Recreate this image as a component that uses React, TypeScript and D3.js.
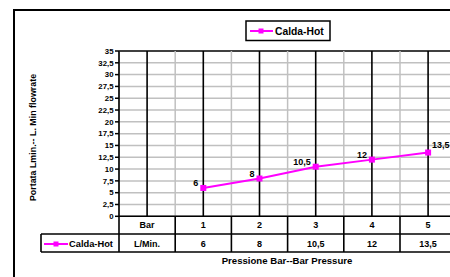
import React from 'react';
import { scaleBand, scaleLinear, range, line } from 'd3';

const categories = ['Bar', '1', '2', '3', '4', '5'];
const flowValues: (number | null)[] = [null, 6, 8, 10.5, 12, 13.5];
const tableRow = ['L/Min.', '6', '8', '10,5', '12', '13,5'];
const yTicks = range(0, 35.01, 2.5);
const seriesName = 'Calda-Hot';

const fmt = (v: number) => String(v).replace('.', ',');
const MAGENTA = '#FF00FF';
const FONT = '"Liberation Sans", Arial, sans-serif';

function App() {
  const left = 119, top = 51, bottom = 216.3;
  const x = scaleBand().domain(categories).range([left, left + 6 * 56.2]);
  const y = scaleLinear().domain([0, 35]).range([bottom, top]);
  const bw = x.bandwidth();
  const cx = (c: string) => (x(c) as number) + bw / 2;
  const right = left + 6 * 56.2;
  const row1 = bottom, row2 = 234, row3 = 252;

  const pts = categories
    .map((c, i) => ({ c, v: flowValues[i] }))
    .filter(d => d.v !== null) as { c: string; v: number }[];
  const path = line<{ c: string; v: number }>().x(d => cx(d.c)).y(d => y(d.v))(pts);

  // label offsets, as placed on the original chart
  const labelPos = (i: number, n: number) =>
    i === n - 1 ? { dx: 4, dy: -5, anchor: 'start' } : { dx: -5, dy: -1.5, anchor: 'end' };

  return (
    <svg width={450} height={277} style={{ position: 'absolute', left: 0, top: 0, fontFamily: FONT }}>
      <rect x={0} y={0} width={450} height={277} fill="#fff" />
      <rect x={14} y={10} width={470} height={300} fill="none" stroke="#000" strokeWidth={2} />

      {/* legend */}
      <rect x={246} y={21} width={84} height={19.5} fill="#fff" stroke="#000" strokeWidth={1.5} />
      <line x1={250} x2={273} y1={31} y2={31} stroke={MAGENTA} strokeWidth={2} />
      <rect x={258.5} y={28.5} width={5} height={5} fill={MAGENTA} />
      <text x={275} y={34.5} fontSize={10.3} fontWeight="bold">{seriesName}</text>

      {/* grid */}
      {yTicks.map(t => (
        <line key={t} x1={left} x2={right} y1={y(t)} y2={y(t)} stroke={t === 35 ? '#000' : '#c0c0c0'} strokeWidth={1.5} />
      ))}
      {categories.map(c => (
        <line key={'g' + c} x1={x(c) as number} x2={x(c) as number} y1={top} y2={bottom} stroke="#c0c0c0" strokeWidth={1.5} />
      ))}
      {categories.map(c => (
        <line key={'b' + c} x1={cx(c)} x2={cx(c)} y1={top} y2={bottom} stroke="#000" strokeWidth={1.6} />
      ))}

      {/* y axis */}
      <line x1={left} x2={left} y1={top} y2={bottom} stroke="#000" strokeWidth={1.6} />
      {yTicks.map(t => (
        <g key={'t' + t}>
          <line x1={left - 4} x2={left} y1={y(t)} y2={y(t)} stroke="#000" strokeWidth={1.5} />
          <text x={left - 5.5} y={y(t) + 2.8} fontSize={7.8} fontWeight="bold" textAnchor="end">{fmt(t)}</text>
        </g>
      ))}
      <text transform={`translate(35.5,137.5) rotate(-90)`} fontSize={8.9} fontWeight="bold" textAnchor="middle">
        Portata Lmin.-- L. Min flowrate
      </text>

      {/* series */}
      <path d={path || ''} fill="none" stroke={MAGENTA} strokeWidth={2} />
      {pts.map((d, i) => {
        const p = labelPos(i, pts.length);
        return (
          <g key={'p' + d.c}>
            <rect x={cx(d.c) - 3} y={y(d.v) - 3} width={6} height={6} fill={MAGENTA} />
            <text x={cx(d.c) + p.dx} y={y(d.v) + p.dy} fontSize={9} fontWeight="bold" textAnchor={p.anchor}>{fmt(d.v)}</text>
          </g>
        );
      })}

      {/* data table */}
      <line x1={left} x2={right} y1={row1} y2={row1} stroke="#000" strokeWidth={1.6} />
      <line x1={41} x2={right} y1={row2} y2={row2} stroke="#000" strokeWidth={1.6} />
      <line x1={41} x2={right} y1={row3} y2={row3} stroke="#000" strokeWidth={1.6} />
      <line x1={41} x2={41} y1={row2} y2={row3} stroke="#000" strokeWidth={1.6} />
      {categories.map(c => (
        <line key={'tv' + c} x1={x(c) as number} x2={x(c) as number} y1={row1} y2={row3} stroke="#000" strokeWidth={1.6} />
      ))}
      {categories.map((c, i) => (
        <g key={'tc' + c}>
          <text x={cx(c)} y={(row1 + row2) / 2 + 3.2} fontSize={9} fontWeight="bold" textAnchor="middle">{c}</text>
          <text x={cx(c)} y={(row2 + row3) / 2 + 3.5} fontSize={9} fontWeight="bold" textAnchor="middle">{tableRow[i]}</text>
        </g>
      ))}
      <line x1={44} x2={68} y1={244} y2={244} stroke={MAGENTA} strokeWidth={2} />
      <rect x={53.5} y={241.5} width={5} height={5} fill={MAGENTA} />
      <text x={69} y={247} fontSize={9.3} fontWeight="bold">{seriesName}</text>

      <text x={287} y={264} fontSize={9.6} fontWeight="bold" textAnchor="middle">Pressione Bar--Bar Pressure</text>
    </svg>
  );
}

export default App;
